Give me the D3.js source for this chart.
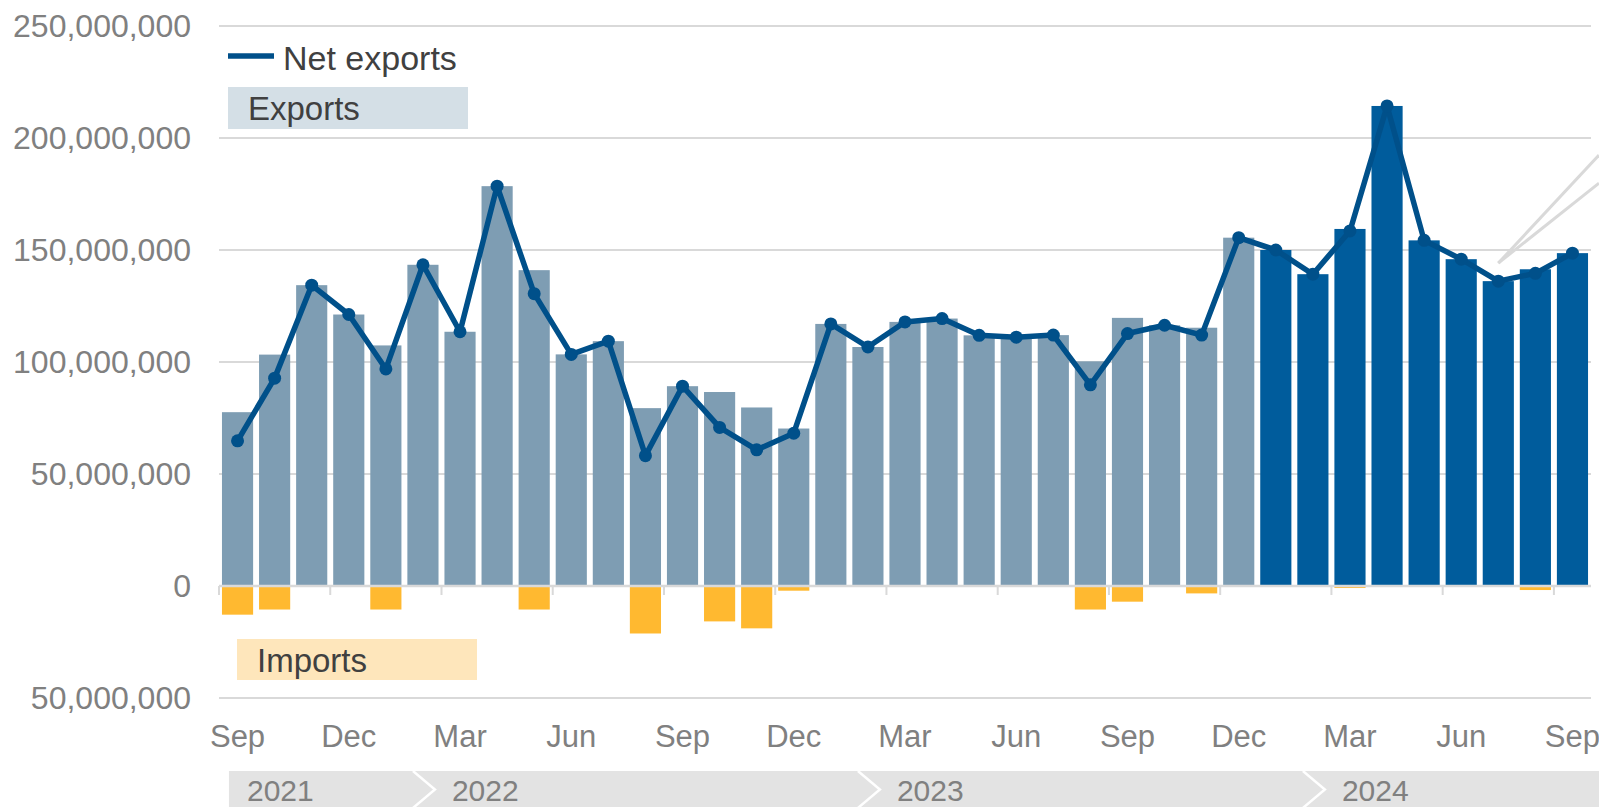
<!DOCTYPE html>
<html>
<head>
<meta charset="utf-8">
<script src="https://cdn.jsdelivr.net/npm/d3@7"></script>
<style>
  html, body { margin: 0; padding: 0; background: #ffffff; }
  svg { display: block; font-family: "Liberation Sans", Arial, Helvetica, sans-serif; }
</style>
</head>
<body>
<svg id="chart" width="1599" height="807"></svg>
<script>
// Monthly trade values, in millions, Sep 2021 – Sep 2024
const UNIT = 1e6;
const months = d3.timeMonths(new Date(2021, 8, 1), new Date(2024, 9, 1));
const exportsM = [77.6, 103.3, 134.3, 121.2, 107.4, 143.4, 113.5, 178.5, 141.0, 103.4, 109.3, 79.4,
                  89.2, 86.6, 79.7, 70.3, 117.0, 106.7, 117.9, 119.4, 111.9, 111.1, 112.0, 100.3,
                  119.7, 116.4, 115.3, 155.5, 150.0, 139.2, 159.4, 214.3, 154.3, 145.9, 136.1, 141.4, 148.6];
const importsM = [12.8, 10.5, 0, 0, 10.5, 0, 0, 0, 10.5, 0, 0, 21.2,
                  0, 15.8, 18.9, 2.1, 0, 0, 0, 0, 0, 0, 0, 10.5,
                  7.0, 0, 3.3, 0, 0, 0, 0.9, 0, 0, 0, 0, 1.8, 0];
const netM = [64.8, 92.8, 134.3, 121.2, 96.9, 143.4, 113.5, 178.5, 130.5, 103.4, 109.3, 58.2,
              89.2, 70.8, 60.8, 68.2, 117.0, 106.7, 117.9, 119.4, 111.9, 111.1, 112.0, 89.8,
              112.7, 116.4, 112.0, 155.5, 150.0, 139.2, 158.5, 214.3, 154.3, 145.9, 136.1, 139.6, 148.6];
const yTicks = [-50e6, 0, 50e6, 100e6, 150e6, 200e6, 250e6];
const highlightFrom = new Date(2024, 0, 1);

const COL = {
  barLight: "#7e9db3", barDark: "#005c9c", line: "#00508a", imports: "#ffb930",
  grid: "#d9d9d9", axisText: "#808080", label: "#404040",
  strip: "#e3e3e3", exportsBox: "#d4dfe6", importsBox: "#fee6bb"
};

const svg = d3.select("#chart");

const x = d3.scaleBand()
  .domain(months.map((d, i) => i))
  .range([219, 1591])
  .paddingInner(0.16)
  .paddingOuter(0.08);
const y = d3.scaleLinear().domain([-50e6, 250e6]).range([698, 26]);
const step = x.step();

// horizontal gridlines
svg.append("g").selectAll("line")
  .data(yTicks.filter(v => v !== 0))
  .join("line")
  .attr("x1", x.range()[0]).attr("x2", x.range()[1])
  .attr("y1", d => y(d)).attr("y2", d => y(d))
  .attr("stroke", COL.grid).attr("stroke-width", 2);

// y axis labels
const yAxis = d3.axisLeft(y).tickValues(yTicks).tickSize(0).tickPadding(0)
  .tickFormat(v => d3.format(",")(Math.abs(v)));
svg.append("g").attr("transform", "translate(191,0)").call(yAxis)
  .call(g => g.select(".domain").remove())
  .call(g => g.selectAll("text").attr("font-size", 32).attr("fill", COL.axisText)
    .attr("font-family", "'Liberation Sans', Arial, sans-serif"));

// decorative leader lines at upper right
const lx = x(34) + x.bandwidth() / 2, ly = y(netM[34] * UNIT) - 18;
svg.append("g").selectAll("line")
  .data([[1599, ly - 108], [1599, ly - 80]])
  .join("line")
  .attr("x1", lx).attr("y1", ly)
  .attr("x2", d => d[0]).attr("y2", d => d[1])
  .attr("stroke", COL.grid).attr("stroke-width", 3);

// export bars
svg.append("g").selectAll("rect")
  .data(exportsM)
  .join("rect")
  .attr("x", (d, i) => x(i))
  .attr("width", x.bandwidth())
  .attr("y", d => y(d * UNIT))
  .attr("height", d => y(0) - y(d * UNIT))
  .attr("fill", (d, i) => months[i] >= highlightFrom ? COL.barDark : COL.barLight);

// import bars (drawn below zero)
svg.append("g").selectAll("rect")
  .data(importsM)
  .join("rect")
  .attr("x", (d, i) => x(i))
  .attr("width", x.bandwidth())
  .attr("y", y(0))
  .attr("height", d => y(-d * UNIT) - y(0))
  .attr("fill", COL.imports);

// zero axis with quarterly ticks
const quarterIdx = months.map((d, i) => i).filter(i => i % 3 === 0);
const axisG = svg.append("g");
axisG.append("line")
  .attr("x1", x.range()[0]).attr("x2", x.range()[1])
  .attr("y1", y(0)).attr("y2", y(0))
  .attr("stroke", COL.grid).attr("stroke-width", 2.5);
axisG.selectAll("line.tick")
  .data(quarterIdx)
  .join("line").attr("class", "tick")
  .attr("x1", i => x(i) - step * 0.08).attr("x2", i => x(i) - step * 0.08)
  .attr("y1", y(0)).attr("y2", y(0) + 9)
  .attr("stroke", COL.grid).attr("stroke-width", 2);

// month labels
const fmtMonth = d3.timeFormat("%b");
svg.append("g").selectAll("text")
  .data(quarterIdx)
  .join("text")
  .attr("x", i => x(i) + x.bandwidth() / 2)
  .attr("y", 747)
  .attr("text-anchor", "middle")
  .attr("font-size", 31)
  .attr("fill", COL.axisText)
  .text(i => fmtMonth(months[i]));

// year strip with chevron separators
const strip = svg.append("g");
strip.append("rect")
  .attr("x", x(0) + 7).attr("y", 771)
  .attr("width", 1599 - x(0) - 7).attr("height", 40)
  .attr("fill", COL.strip);
const years = [2021, 2022, 2023, 2024];
const yearStart = yr => {
  const i = months.findIndex(m => m.getFullYear() === yr);
  return x(i) - step * 0.08 + step * 1.23;
};
years.filter(yr => yr !== 2021).forEach(yr => {
  const cx = yearStart(yr);
  strip.append("polyline")
    .attr("points", `${cx},771 ${cx + 22},789.5 ${cx},808`)
    .attr("fill", "none").attr("stroke", "#ffffff").attr("stroke-width", 2.5);
});
strip.selectAll("text")
  .data(years)
  .join("text")
  .attr("x", yr => yr === 2021 ? x(0) + 25 : yearStart(yr) + 39)
  .attr("y", 801)
  .attr("font-size", 30)
  .attr("fill", COL.axisText)
  .text(yr => yr);

// net exports line and points
const lineGen = d3.line()
  .x((d, i) => x(i) + x.bandwidth() / 2)
  .y(d => y(d * UNIT));
svg.append("path")
  .datum(netM)
  .attr("d", lineGen)
  .attr("fill", "none")
  .attr("stroke", COL.line)
  .attr("stroke-width", 5.5)
  .attr("stroke-linejoin", "round");
svg.append("g").selectAll("circle")
  .data(netM)
  .join("circle")
  .attr("cx", (d, i) => x(i) + x.bandwidth() / 2)
  .attr("cy", d => y(d * UNIT))
  .attr("r", 6.5)
  .attr("fill", COL.line);

// legend
const legend = svg.append("g");
legend.append("line")
  .attr("x1", 228).attr("x2", 274).attr("y1", 56).attr("y2", 56)
  .attr("stroke", COL.line).attr("stroke-width", 5.5);
legend.append("text")
  .attr("x", 283).attr("y", 70).attr("font-size", 34).attr("fill", COL.label)
  .text("Net exports");
legend.append("rect")
  .attr("x", 228).attr("y", 87).attr("width", 240).attr("height", 42)
  .attr("fill", COL.exportsBox);
legend.append("text")
  .attr("x", 248).attr("y", 120).attr("font-size", 33).attr("fill", COL.label)
  .text("Exports");
legend.append("rect")
  .attr("x", 237).attr("y", 639).attr("width", 240).attr("height", 41)
  .attr("fill", COL.importsBox);
legend.append("text")
  .attr("x", 257).attr("y", 672).attr("font-size", 33).attr("fill", COL.label)
  .text("Imports");
</script>
</body>
</html>
